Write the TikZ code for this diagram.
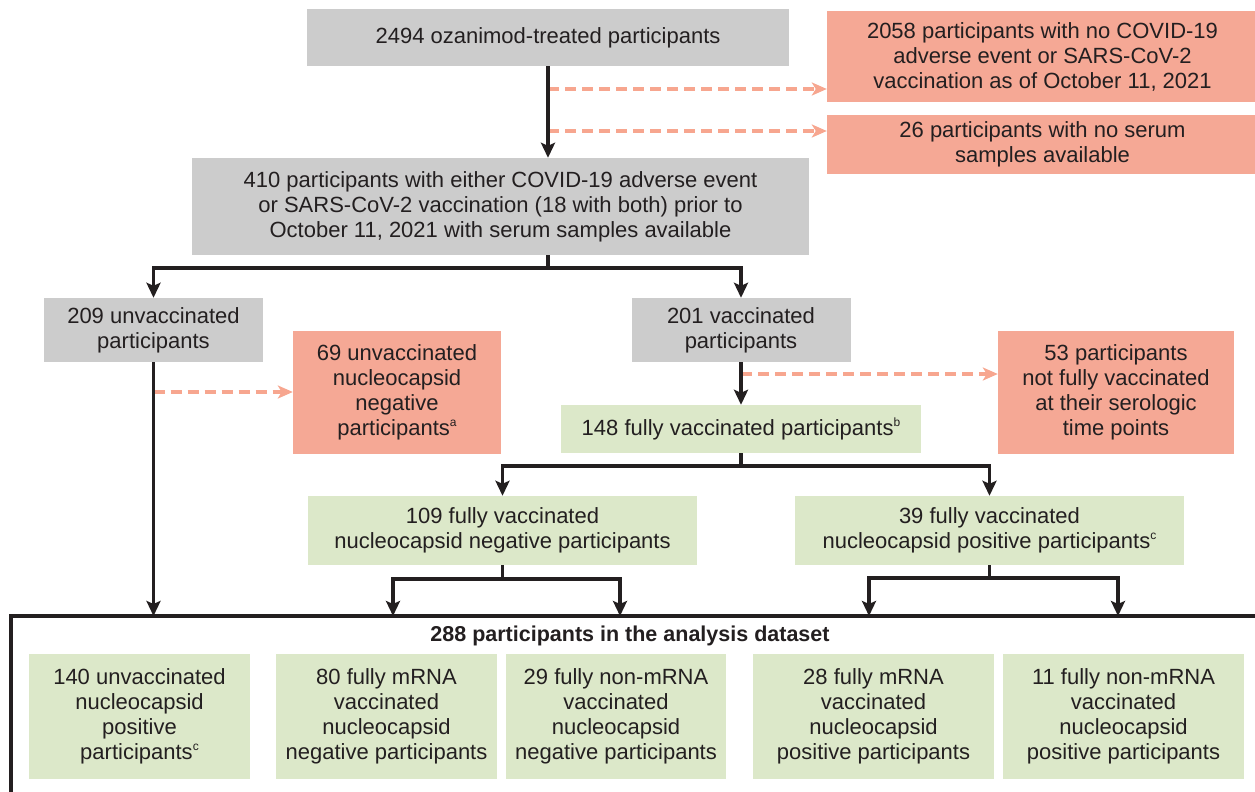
\documentclass[tikz,border=0pt]{standalone}
\usepackage{fontspec}
\setmainfont{Liberation Sans}
\usetikzlibrary{arrows.meta}
\definecolor{txt}{RGB}{35,31,32}
\definecolor{grayfill}{RGB}{204,204,204}
\definecolor{redfill}{RGB}{245,168,149}
\definecolor{greenfill}{RGB}{220,232,201}
\definecolor{dashcol}{RGB}{247,166,143}
\newcommand\supx[1]{\raisebox{0.42em}{\fontsize{12}{12}\selectfont #1}}
\begin{document}
\begin{tikzpicture}[x=1pt,y=-1pt,
  wh/.style 2 args={minimum width=#1, minimum height=#2},
  boxbase/.style={inner sep=0pt, align=center, text=txt, font=\fontsize{22}{25}\selectfont},
  graybox/.style={boxbase, fill=grayfill},
  redbox/.style={boxbase, fill=redfill},
  greenbox/.style={boxbase, fill=greenfill},
  ln/.style={draw=txt, line width=3.5pt, line join=miter},
  arr/.style={ln, -{Stealth[length=15pt,width=14pt,inset=3pt]}},
  dasharr/.style={draw=dashcol, line width=3.5pt, dash pattern=on 11pt off 6pt, -{Stealth[length=15pt,width=13pt,inset=4pt]}}
]
\useasboundingbox (0,0) rectangle (1255,792);
\clip (0,0) rectangle (1255,792);
\fill[white] (0,0) rectangle (1255,792);

% nodes
\node[graybox, wh={482pt}{57pt}] (A) at (548,37.5) {2494 ozanimod-treated participants};
\node[redbox, wh={431pt}{91pt}] (R1) at (1042.5,56.5) {2058 participants with no COVID-19\\adverse event or SARS-CoV-2\\vaccination as of October 11, 2021};
\node[redbox, wh={431pt}{59pt}] (R2) at (1042.5,144.5) {26 participants with no serum\\samples available};
\node[graybox, wh={617pt}{97pt}] (B) at (500.5,206.5) {410 participants with either COVID-19 adverse event\\or SARS-CoV-2 vaccination (18 with both) prior to\\October 11, 2021 with serum samples available};
\node[graybox, wh={219pt}{64pt}] (C) at (153.5,330) {209 unvaccinated\\participants};
\node[redbox, wh={208pt}{123pt}] (N69) at (397,392.5) {69 unvaccinated\\nucleocapsid\\negative\\participants\supx{a}};
\node[graybox, wh={219pt}{64pt}] (D) at (741,330) {201 vaccinated\\participants};
\node[redbox, wh={236pt}{123pt}] (R3) at (1116,392.5) {53 participants\\not fully vaccinated\\at their serologic\\time points};
\node[greenbox, wh={360pt}{48pt}] (G148) at (741,429) {148 fully vaccinated participants\supx{b}};
\node[greenbox, wh={389pt}{69pt}] (G109) at (502.5,530.5) {109 fully vaccinated\\nucleocapsid negative participants};
\node[greenbox, wh={389pt}{69pt}] (G39) at (989.5,530.5) {39 fully vaccinated\\nucleocapsid positive participants\supx{c}};

\node[text=txt, font=\fontsize{21.5}{25}\selectfont\bfseries, inner sep=0pt] (T) at (630,636) {288 participants in the analysis dataset};

\node[greenbox, wh={221pt}{125pt}] (F140) at (139.5,716.5) {140 unvaccinated\\nucleocapsid\\positive\\participants\supx{c}};
\node[greenbox, wh={221pt}{125pt}] (F80) at (386.5,716.5) {80 fully mRNA\\vaccinated\\nucleocapsid\\negative participants};
\node[greenbox, wh={220pt}{125pt}] (F29) at (616,716.5) {29 fully non-mRNA\\vaccinated\\nucleocapsid\\negative participants};
\node[greenbox, wh={241pt}{125pt}] (F28) at (873.5,716.5) {28 fully mRNA\\vaccinated\\nucleocapsid\\positive participants};
\node[greenbox, wh={241pt}{125pt}] (F11) at (1123.5,716.5) {11 fully non-mRNA\\vaccinated\\nucleocapsid\\positive participants};

% outer frame of analysis dataset
\coordinate (otl) at (11,616);
\coordinate (otr) at (1270,616);
\coordinate (obl) at (11,810);
\draw[ln] (otr) -- (otl) -- (obl);

% dashed exclusions
\coordinate (d1) at (548,89);
\coordinate (d2) at (548,131);
\coordinate (d3) at (153.5,392);
\coordinate (d4) at (741,374);
\draw[dasharr] (d1) -- (d1 -| R1.west);
\draw[dasharr] (d2) -- (d2 -| R2.west);
\draw[dasharr] (d3) -- (d3 -| N69.west);
\draw[dasharr] (d4) -- (d4 -| R3.west);

% main flow
\draw[arr] (A.south) -- (A.south |- B.north);
\draw[ln] (B.south -| A.south) -- ++(0,13) coordinate (bj);
\draw[arr] (bj) -| (C.north);
\draw[arr] (bj) -| (D.north);
\draw[arr] (C.south) -- (C.south |- otl);
\draw[arr] (D.south) -- (G148.north);
\draw[ln] (G148.south) -- ++(0,13) coordinate (gj);
\draw[arr] (gj) -| (G109.north);
\draw[arr] (gj) -| (G39.north);

\coordinate (t1) at (393,616);
\coordinate (t2) at (620,616);
\coordinate (t3) at (869,616);
\coordinate (t4) at (1118,616);
\draw[ln] (G109.south) -- ++(0,14) coordinate (j109);
\draw[arr] (j109) -| (t1);
\draw[arr] (j109) -| (t2);
\draw[ln] (G39.south) -- ++(0,13) coordinate (j39);
\draw[arr] (j39) -| (t3);
\draw[arr] (j39) -| (t4);
\end{tikzpicture}
\end{document}
